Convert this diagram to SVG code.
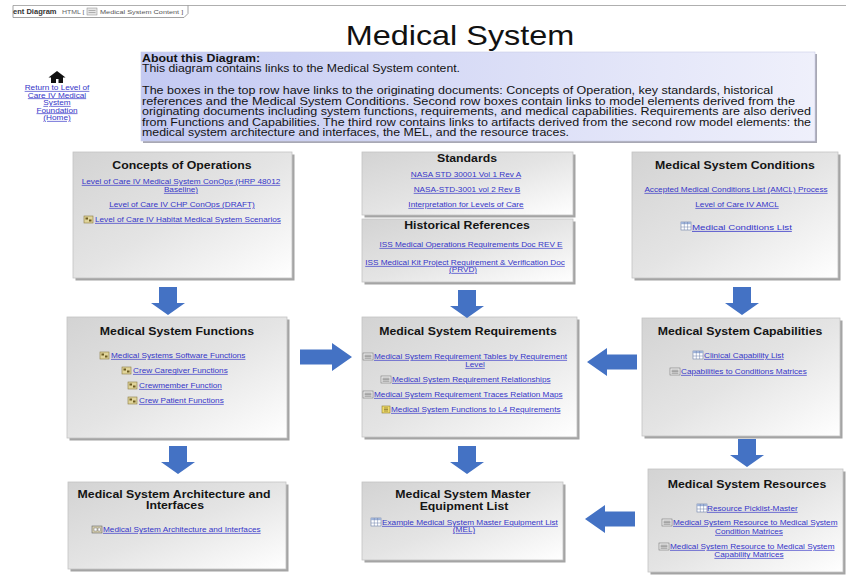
<svg xmlns="http://www.w3.org/2000/svg" width="846" height="577" viewBox="0 0 846 577">
<defs>
<linearGradient id="gbox" x1="0" y1="0" x2="1" y2="1">
<stop offset="0" stop-color="#d3d3d3"/>
<stop offset="0.5" stop-color="#e4e4e4"/>
<stop offset="1" stop-color="#ffffff"/>
</linearGradient>
<linearGradient id="gabout" x1="0" y1="0" x2="1" y2="0">
<stop offset="0" stop-color="#c3c9f2"/>
<stop offset="1" stop-color="#eff0fb"/>
</linearGradient>
<g id="ic-act"><rect x="0" y="0" width="9" height="7" fill="#e0d49a" stroke="#8a7a40" stroke-width="0.6"/><rect x="1.5" y="1.5" width="2.5" height="2" fill="#6b5a20"/><rect x="5" y="3.5" width="2.5" height="2" fill="#6b5a20"/></g>
<g id="ic-tbl"><rect x="0" y="0" width="10" height="8" fill="#ffffff" stroke="#6b7fa8" stroke-width="0.6"/><rect x="0" y="0" width="10" height="2.2" fill="#9fb3d8"/><path d="M3.3 0V8M6.6 0V8M0 5H10" stroke="#6b7fa8" stroke-width="0.5" fill="none"/></g>
<g id="ic-mat"><rect x="0" y="0" width="10" height="7" fill="#eeeeee" stroke="#777777" stroke-width="0.6"/><path d="M1.5 2.2H8.5M1.5 3.7H8.5M1.5 5.2H8.5" stroke="#555555" stroke-width="0.6" fill="none"/></g>
<g id="ic-req"><rect x="0" y="0" width="8" height="7" fill="#f0dc6a" stroke="#8a7a30" stroke-width="0.6"/><path d="M2 2H6M2 3.5H6M2 5H6" stroke="#6b5a20" stroke-width="0.6" fill="none"/></g>
<g id="ic-blk"><rect x="0" y="0" width="10" height="7" fill="#d8d0b0" stroke="#666666" stroke-width="0.6"/><rect x="2" y="2" width="3" height="3" fill="#ffffff" stroke="#555555" stroke-width="0.4"/><rect x="6" y="2" width="2.5" height="3" fill="#ffffff" stroke="#555555" stroke-width="0.4"/></g>
</defs>
<style>
text { font-family: "Liberation Sans", Arial, sans-serif; }
.sh { fill: #a4a4a4; }
.box { fill: url(#gbox); stroke: #c4c4c4; stroke-width: 0.8; }
.ttl { font-weight: bold; font-size: 10.25px; text-anchor: middle; fill: #141414; }
.lk { font-size: 6.85px; fill: #3535c8; text-decoration: underline; }
.m { text-anchor: middle; }
.ab { font-size: 10.1px; fill: #141414; }
.hd { font-size: 6.1px; fill: #555555; }
.arr { fill: #4472c4; }
</style>
<rect x="0" y="0" width="846" height="577" fill="#ffffff"/>

<g id="frame">
<path d="M13 5.5H846" stroke="#9a9a9a" stroke-width="0.8" fill="none"/>
<path d="M13 5.5V17.5H184L188 13.5V5.5" stroke="#8a8a8a" stroke-width="0.8" fill="none"/>
<text class="hd" style="font-size:6.3px;font-weight:bold;fill:#333333" transform="matrix(1.2 0 0 1 13 14)">ent Diagram</text>
<text class="hd" style="font-size:5.8px;fill:#666666" transform="matrix(1.2 0 0 1 62 14)">HTML [</text>
<rect x="87" y="8" width="10" height="7" fill="#e6e6e6" stroke="#888888" stroke-width="0.5"/>
<path d="M88.5 10.5H95.5M88.5 12.5H95.5" stroke="#777777" stroke-width="0.5"/>
<text class="hd" transform="matrix(1.2 0 0 1 100 14)">Medical System Content ]</text>
</g>

<g id="title">
<text transform="matrix(1.2 0 0 1 460 45)" font-size="27" text-anchor="middle" fill="#111111">Medical System</text>
</g>

<g id="home">
<polygon points="57,71 65.5,77.5 48.5,77.5" fill="#111111"/>
<rect x="51" y="77" width="12" height="6" fill="#111111"/>
<rect x="56" y="79" width="2.5" height="4" fill="#ffffff"/>
<text class="lk m" transform="matrix(1.2 0 0 1 57 90)">Return to Level of</text>
<text class="lk m" transform="matrix(1.2 0 0 1 57 97.5)">Care IV Medical</text>
<text class="lk m" transform="matrix(1.2 0 0 1 57 105)">System</text>
<text class="lk m" transform="matrix(1.2 0 0 1 57 112.5)">Foundation</text>
<text class="lk m" transform="matrix(1.2 0 0 1 57 120)">(Home)</text>
</g>

<g id="about">
<rect x="143" y="54" width="674" height="89" fill="#a8a8b4"/>
<rect x="141" y="52" width="674" height="89" fill="url(#gabout)" stroke="#c9cce6" stroke-width="0.6"/>
<text class="ab" font-weight="bold" x="142" y="61.5" textLength="118" lengthAdjust="spacingAndGlyphs">About this Diagram:</text>
<text class="ab" x="142" y="72" textLength="318" lengthAdjust="spacingAndGlyphs">This diagram contains links to the Medical System content.</text>
<text class="ab" x="142" y="94" textLength="631" lengthAdjust="spacingAndGlyphs">The boxes in the top row have links to the originating documents: Concepts of Operation, key standards, historical</text>
<text class="ab" x="142" y="104.5" textLength="653" lengthAdjust="spacingAndGlyphs">references and the Medical System Conditions. Second row boxes contain links to model elements derived from the</text>
<text class="ab" x="142" y="115" textLength="669" lengthAdjust="spacingAndGlyphs">originating documents including system functions, requirements, and medical capabilities. Requirements are also derived</text>
<text class="ab" x="142" y="125.5" textLength="669" lengthAdjust="spacingAndGlyphs">from Functions and Capabilities.  The third row contains links to artifacts derived from the second row model elements: the</text>
<text class="ab" x="142" y="136" textLength="427" lengthAdjust="spacingAndGlyphs">medical system architecture and interfaces, the MEL, and the resource traces.</text>
</g>

<g id="concepts">
<rect class="sh" x="75.5" y="154.5" width="219" height="126"/>
<rect class="box" x="73" y="152" width="219" height="126"/>
<text class="ttl" transform="matrix(1.2 0 0 1 182 169)">Concepts of Operations</text>
<text class="lk m" transform="matrix(1.2 0 0 1 181 184)">Level of Care IV Medical System ConOps (HRP  48012</text>
<text class="lk m" transform="matrix(1.2 0 0 1 181 192)">Baseline)</text>
<text class="lk m" transform="matrix(1.2 0 0 1 182 207)">Level of Care IV CHP ConOps (DRAFT)</text>
<use href="#ic-act" x="84" y="216"/>
<text class="lk" transform="matrix(1.2 0 0 1 95 222)">Level of Care IV Habitat Medical System Scenarios</text>
</g>

<g id="standards">
<rect class="sh" x="364.5" y="154.5" width="211" height="63"/>
<rect class="box" x="362" y="152" width="211" height="63"/>
<text class="ttl" transform="matrix(1.2 0 0 1 467 162)">Standards</text>
<text class="lk m" transform="matrix(1.2 0 0 1 466 177)">NASA STD 30001 Vol 1 Rev A</text>
<text class="lk m" transform="matrix(1.2 0 0 1 467 192)">NASA-STD-3001 vol 2 Rev B</text>
<text class="lk m" transform="matrix(1.2 0 0 1 466 207)">Interpretation for Levels of Care</text>
</g>

<g id="historical">
<rect class="sh" x="364.5" y="221.5" width="211" height="63"/>
<rect class="box" x="362" y="219" width="211" height="63"/>
<text class="ttl" transform="matrix(1.2 0 0 1 467 229)">Historical References</text>
<text class="lk m" transform="matrix(1.2 0 0 1 471 247)">ISS Medical Operations Requirements Doc REV E</text>
<text class="lk m" transform="matrix(1.2 0 0 1 465 265)">ISS Medical Kit Project Requirement &amp; Verification Doc</text>
<text class="lk m" transform="matrix(1.2 0 0 1 463 272)">(PRVD)</text>
</g>

<g id="conditions">
<rect class="sh" x="634.5" y="154.5" width="206" height="126"/>
<rect class="box" x="632" y="152" width="206" height="126"/>
<text class="ttl" transform="matrix(1.2 0 0 1 735 169)">Medical System Conditions</text>
<text class="lk m" transform="matrix(1.2 0 0 1 736 192)">Accepted Medical Conditions List (AMCL) Process</text>
<text class="lk m" transform="matrix(1.2 0 0 1 737 207)">Level of Care IV AMCL</text>
<use href="#ic-tbl" x="681" y="222"/>
<text class="lk" style="font-size:8.1px" transform="matrix(1.2 0 0 1 692 230)">Medical Conditions List</text>
</g>

<g id="functions">
<rect class="sh" x="69.5" y="319.5" width="220" height="121"/>
<rect class="box" x="67" y="317" width="220" height="121"/>
<text class="ttl" transform="matrix(1.2 0 0 1 177 335)">Medical System Functions</text>
<use href="#ic-act" x="100" y="352"/>
<text class="lk" transform="matrix(1.2 0 0 1 111 358)">Medical Systems Software Functions</text>
<use href="#ic-act" x="122" y="367"/>
<text class="lk" transform="matrix(1.2 0 0 1 133 373)">Crew Caregiver Functions</text>
<use href="#ic-act" x="128" y="382"/>
<text class="lk" transform="matrix(1.2 0 0 1 139 388)">Crewmember Function</text>
<use href="#ic-act" x="128" y="397"/>
<text class="lk" transform="matrix(1.2 0 0 1 139 403)">Crew Patient Functions</text>
</g>

<g id="requirements">
<rect class="sh" x="364.5" y="319.5" width="215" height="120"/>
<rect class="box" x="362" y="317" width="215" height="120"/>
<text class="ttl" transform="matrix(1.2 0 0 1 468 335)">Medical System Requirements</text>
<use href="#ic-mat" x="363" y="353"/>
<text class="lk" transform="matrix(1.2 0 0 1 374 359)">Medical System Requirement Tables by Requirement</text>
<text class="lk m" transform="matrix(1.2 0 0 1 475 367)">Level</text>
<use href="#ic-mat" x="381" y="376"/>
<text class="lk" transform="matrix(1.2 0 0 1 392 382)">Medical System Requirement Relationships</text>
<use href="#ic-mat" x="363" y="391"/>
<text class="lk" transform="matrix(1.2 0 0 1 374 397)">Medical System Requirement Traces Relation Maps</text>
<use href="#ic-req" x="382" y="406"/>
<text class="lk" transform="matrix(1.2 0 0 1 391 412)">Medical System Functions to L4 Requirements</text>
</g>

<g id="capabilities">
<rect class="sh" x="644.5" y="320.5" width="198" height="118"/>
<rect class="box" x="642" y="318" width="198" height="118"/>
<text class="ttl" transform="matrix(1.2 0 0 1 740 335)">Medical System Capabilities</text>
<use href="#ic-tbl" x="693" y="351"/>
<text class="lk" transform="matrix(1.2 0 0 1 704 358)">Clinical Capability List</text>
<use href="#ic-mat" x="670" y="368"/>
<text class="lk" transform="matrix(1.2 0 0 1 681 374)">Capabilities to Conditions Matrices</text>
</g>

<g id="architecture">
<rect class="sh" x="70.5" y="484.5" width="218" height="87"/>
<rect class="box" x="68" y="482" width="218" height="87"/>
<text class="ttl" transform="matrix(1.2 0 0 1 174 498)">Medical System Architecture and</text>
<text class="ttl" transform="matrix(1.2 0 0 1 175 509)">Interfaces</text>
<use href="#ic-blk" x="92" y="526"/>
<text class="lk" transform="matrix(1.2 0 0 1 103 532)">Medical System Architecture and Interfaces</text>
</g>

<g id="mel">
<rect class="sh" x="364.5" y="484.5" width="201" height="78"/>
<rect class="box" x="362" y="482" width="201" height="78"/>
<text class="ttl" transform="matrix(1.2 0 0 1 463 498)">Medical System Master</text>
<text class="ttl" transform="matrix(1.2 0 0 1 464 510)">Equipment List</text>
<use href="#ic-tbl" x="371" y="518"/>
<text class="lk" transform="matrix(1.2 0 0 1 382 525)">Example Medical System Master Equipment List</text>
<text class="lk m" transform="matrix(1.2 0 0 1 464 532)">(MEL)</text>
</g>

<g id="resources">
<rect class="sh" x="650.5" y="471.5" width="195" height="103"/>
<rect class="box" x="648" y="469" width="195" height="103"/>
<text class="ttl" transform="matrix(1.2 0 0 1 747 488)">Medical System Resources</text>
<use href="#ic-tbl" x="697" y="504"/>
<text class="lk" transform="matrix(1.2 0 0 1 707 511)">Resource Picklist-Master</text>
<use href="#ic-mat" x="662" y="519"/>
<text class="lk" transform="matrix(1.2 0 0 1 673 525)">Medical System Resource to Medical System</text>
<text class="lk m" transform="matrix(1.2 0 0 1 749 534)">Condition Matrices</text>
<use href="#ic-mat" x="659" y="543"/>
<text class="lk" transform="matrix(1.2 0 0 1 670 549)">Medical System Resource to Medical System</text>
<text class="lk m" transform="matrix(1.2 0 0 1 749 557)">Capability Matrices</text>
</g>

<g id="connectors">
<polygon class="arr" points="159,287 177,287 177,303 185,303 168,315 151,303 159,303"/>
<polygon class="arr" points="458,290 476,290 476,306 484,306 467,318 450,306 458,306"/>
<polygon class="arr" points="733,287 751,287 751,303 759,303 742,315 725,303 733,303"/>
<polygon class="arr" points="169,446 187,446 187,462 195,462 178,474 161,462 169,462"/>
<polygon class="arr" points="458,446 476,446 476,462 484,462 467,474 450,462 458,462"/>
<polygon class="arr" points="738,439 756,439 756,455 764,455 747,467 730,455 738,455"/>
<polygon class="arr" points="300,349.5 332,349.5 332,343 352,357 332,371 332,364.5 300,364.5"/>
<polygon class="arr" points="637,354.5 607,354.5 607,348 587,362 607,376 607,369.5 637,369.5"/>
<polygon class="arr" points="635,511.5 605,511.5 605,505 585,519 605,533 605,526.5 635,526.5"/>
</g>
</svg>
